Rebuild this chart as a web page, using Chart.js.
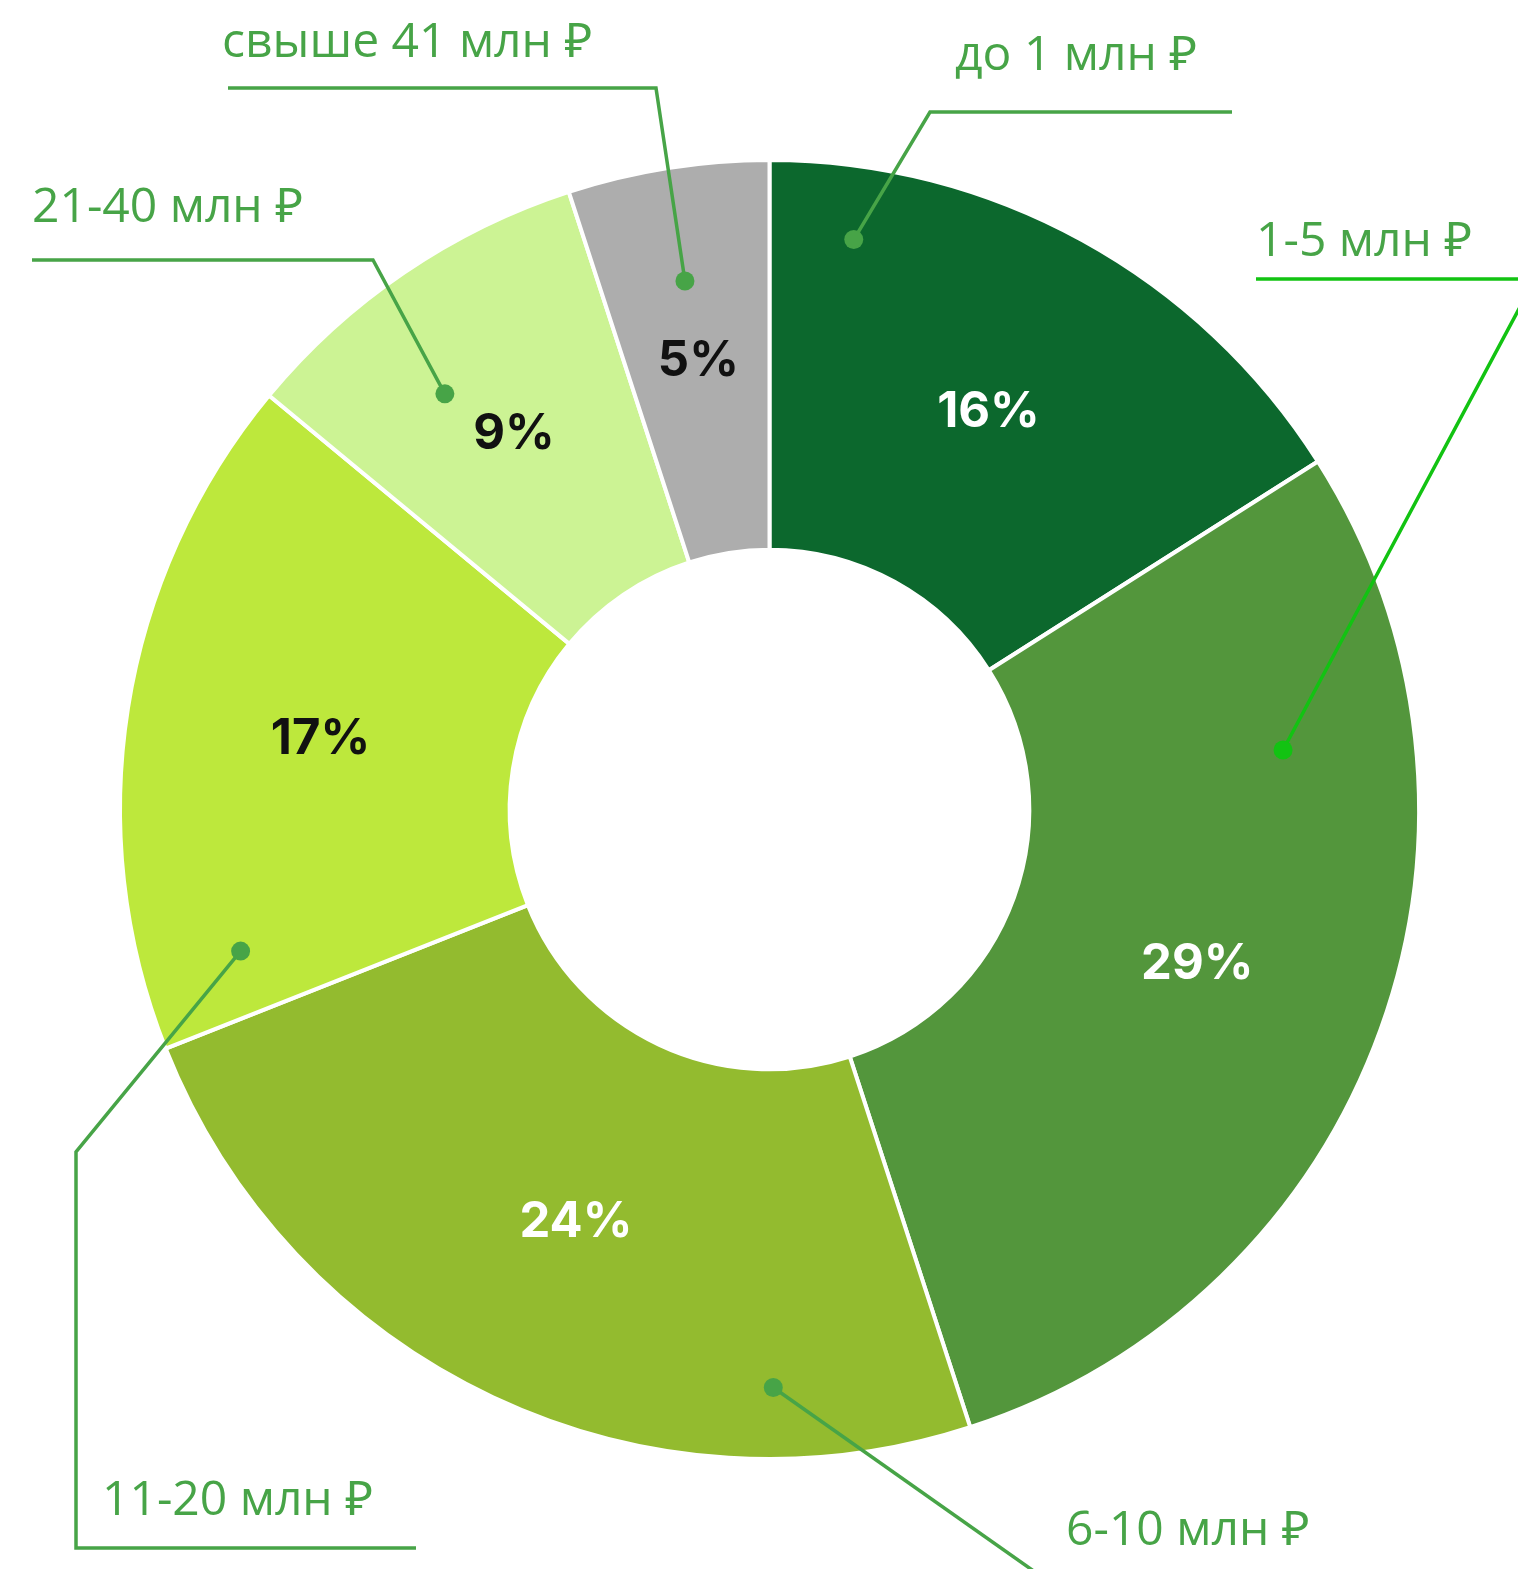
<!DOCTYPE html>
<html lang="ru">
<head>
<meta charset="utf-8">
<script src="https://cdn.jsdelivr.net/npm/chart.js@4/dist/chart.umd.min.js"></script>
<style>
  html, body { margin: 0; padding: 0; background: #fff; }
  #wrap { width: 1518px; height: 1569px; position: relative; }
</style>
</head>
<body>
<div id="wrap"><canvas id="donut"></canvas></div>
<script>
// Data
const categories = ['до 1 млн ₽', '1-5 млн ₽', '6-10 млн ₽', '11-20 млн ₽', '21-40 млн ₽', 'свыше 41 млн ₽'];
const shares = [16, 29, 24, 17, 9, 5];
const sliceColors = ['#0c682d', '#53963c', '#93bb2f', '#bde83c', '#ccf394', '#adadad'];
const valueColors = ['#ffffff', '#ffffff', '#ffffff', '#111111', '#111111', '#111111'];

// Callout layout: dot = [position along arc 0..1, fraction of outer radius],
// path = elbow points after the dot, text = [left x, baseline y]
const callouts = [
  { dot: [0.146, 0.887], path: [[930, 112], [1232, 112]], text: [955, 70], color: '#47a447' },
  { dot: [0.247, 0.796], path: [[1535, 279], [1256, 279]], text: [1256, 256], color: '#12c312' },
  { dot: [0.204, 0.890], path: [[1045, 1579]], text: [1066, 1545], color: '#47a447' },
  { dot: [0.108, 0.843], path: [[76, 1152], [76, 1548], [416, 1548]], text: [102, 1515], color: '#47a447' },
  { dot: [0.383, 0.812], path: [[373, 260], [32, 260]], text: [32, 222], color: '#47a447' },
  { dot: [0.495, 0.824], path: [[656, 88], [228, 88]], text: [222, 57], color: '#47a447' }
];

const LABEL_FONT = '48px "Open Sans", "Noto Sans", sans-serif';
const VALUE_FONT = '700 49px Inter, "Open Sans", sans-serif';

// percent values in the middle of each slice
const valuePlugin = {
  id: 'values',
  afterDatasetsDraw(chart) {
    const ctx = chart.ctx;
    const arcs = chart.getDatasetMeta(0).data;
    ctx.save();
    ctx.font = VALUE_FONT;
    ctx.textAlign = 'center';
    ctx.textBaseline = 'middle';
    arcs.forEach((arc, i) => {
      const p = arc.getCenterPoint();
      ctx.fillStyle = valueColors[i];
      ctx.fillText(shares[i] + '%', p.x, p.y + 1);
    });
    ctx.restore();
  }
};

// leader lines, dots and category names
const calloutPlugin = {
  id: 'callouts',
  afterDatasetsDraw(chart) {
    const ctx = chart.ctx;
    const arcs = chart.getDatasetMeta(0).data;
    ctx.save();
    arcs.forEach((arc, i) => {
      const c = callouts[i];
      const a = arc.startAngle + (arc.endAngle - arc.startAngle) * c.dot[0];
      const r = arc.outerRadius * c.dot[1];
      const dx = arc.x + Math.cos(a) * r;
      const dy = arc.y + Math.sin(a) * r;

      ctx.strokeStyle = c.color;
      ctx.lineWidth = 3.5;
      ctx.lineJoin = 'miter';
      ctx.beginPath();
      ctx.moveTo(dx, dy);
      c.path.forEach(pt => ctx.lineTo(pt[0], pt[1]));
      ctx.stroke();

      ctx.fillStyle = c.color;
      ctx.beginPath();
      ctx.arc(dx, dy, 9.5, 0, Math.PI * 2);
      ctx.fill();

      ctx.font = LABEL_FONT;
      ctx.textAlign = 'left';
      ctx.textBaseline = 'alphabetic';
      ctx.fillStyle = '#47a447';
      ctx.fillText(categories[i], c.text[0], c.text[1]);
    });
    ctx.restore();
  }
};

new Chart(document.getElementById('donut'), {
  type: 'doughnut',
  data: {
    labels: categories,
    datasets: [{
      data: shares,
      backgroundColor: sliceColors,
      borderColor: '#ffffff',
      borderWidth: 4,
      hoverOffset: 0
    }]
  },
  options: {
    responsive: true,
    maintainAspectRatio: false,
    animation: false,
    cutout: '40%',
    layout: { padding: { left: 118, right: 97, top: 158, bottom: 108 } },
    plugins: {
      legend: { display: false },
      tooltip: { enabled: false }
    }
  },
  plugins: [valuePlugin, calloutPlugin]
});
</script>
</body>
</html>
